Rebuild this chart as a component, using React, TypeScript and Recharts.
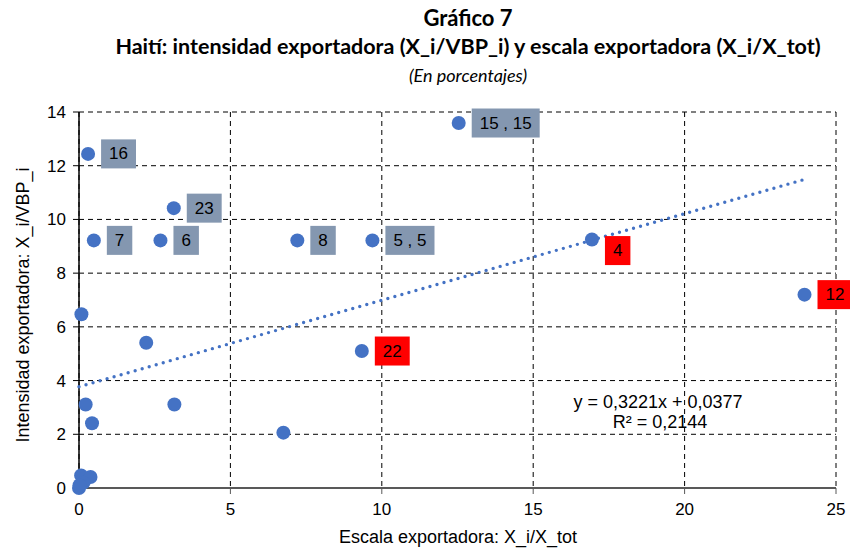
import React from 'react';
import { ScatterChart, Scatter, XAxis, YAxis, CartesianGrid } from 'recharts';

// ----- data -----
const xValues = [0.30, 0.49, 2.69, 3.13, 7.21, 9.69, 12.54, 9.34, 16.94, 23.96, 0.08, 2.22, 0.22, 0.43, 3.15, 6.75, 0.07, 0.38, 0.0, 0.15, 0.02];
const yValues = [12.44, 9.22, 9.22, 10.42, 9.22, 9.22, 13.59, 5.10, 9.25, 7.20, 6.47, 5.41, 3.11, 2.41, 3.11, 2.06, 0.47, 0.41, 0.0, 0.2, 0.1];
const pointLabels = ['16', '7', '6', '23', '8', '5 , 5', '15 , 15', '22', '4', '12', '', '', '', '', '', '', '', '', '', '', ''];
const labelKinds = ['gray', 'gray', 'gray', 'gray', 'gray', 'gray', 'gray', 'red', 'red', 'red', '', '', '', '', '', '', '', '', '', '', ''];

const trendX = [0, 23.9];
const trendY = [3.77, 11.47];

const xTicks = [0, 5, 10, 15, 20, 25];
const yTicks = [0, 2, 4, 6, 8, 10, 12, 14];

const title1 = 'Gráfico 7';
const title2 = 'Haití: intensidad exportadora (X_i/VBP_i) y escala exportadora (X_i/X_tot)';
const title3 = '(En porcentajes)';
const xTitle = 'Escala exportadora: X_i/X_tot';
const yTitle = 'Intensidad exportadora: X_i/VBP_i';
const eqLine1 = 'y = 0,3221x + 0,0377';
const eqLine2 = 'R² = 0,2144';

// ----- build tables -----
const points = xValues.map((x, i) => ({ x, y: yValues[i], label: pointLabels[i], kind: labelKinds[i] }));
const trend = trendX.map((x, i) => ({ x, y: trendY[i] }));

// ----- styles -----
const POINT_COLOR = '#4472C4';
const GRAY_BOX = '#8497B0';
const RED_BOX = '#FF0000';
const AX_FONT = '"Liberation Sans", Arial, sans-serif';
const labelShiftY: Record<string, number> = { '4': 11 };

const textWidth = (s: string, fs: number) => {
  let w = 0;
  for (const c of s) {
    if (c === ' ' || c === ',') w += 0.278;
    else w += 0.556;
  }
  return w * fs;
};

const PointShape = (props: any) => {
  const { cx, cy, payload } = props;
  if (cx == null || cy == null) return <g />;
  const lbl: string = payload?.label || '';
  const fs = 17;
  const pad = 8;
  const bw = textWidth(lbl, fs) + pad * 2;
  const bh = 29;
  const bx = cx + 13;
  const by = cy - bh / 2 + (labelShiftY[lbl] || 0);
  return (
    <g>
      <circle cx={cx} cy={cy} r={7} fill={POINT_COLOR} />
      {lbl && (
        <g>
          <rect x={bx} y={by} width={bw} height={bh} fill={payload.kind === 'red' ? RED_BOX : GRAY_BOX} />
          <text x={bx + bw / 2} y={by + bh / 2} textAnchor="middle" dominantBaseline="central" fontSize={fs} fontFamily={AX_FONT} fill="#000">
            {lbl}
          </text>
        </g>
      )}
    </g>
  );
};

export default function App() {
  return (
    <div style={{ position: 'absolute', left: 0, top: 0, width: 850, height: 550, background: '#fff', overflow: 'hidden' }}>
      <div style={{ position: 'absolute', left: 0, top: 3, width: 936, textAlign: 'center', fontFamily: 'Lato, "Noto Sans", sans-serif', fontWeight: 700, fontSize: 21.5, lineHeight: '29px', color: '#000' }}>
        <div style={{ fontSize: 22 }}>{title1}</div>
        <div>{title2}</div>
        <div style={{ fontWeight: 400, fontStyle: 'italic', fontSize: 18 }}>{title3}</div>
      </div>
      <ScatterChart width={850} height={550} margin={{ top: 112, right: 14, bottom: 32, left: 0 }}>
        <CartesianGrid stroke="#000" strokeDasharray="5 4" strokeWidth={1} />
        <XAxis
          type="number"
          dataKey="x"
          domain={[0, 25]}
          ticks={xTicks}
          interval={0}
          height={30}
          axisLine={{ stroke: '#595959', strokeWidth: 2 }}
          tickLine={{ stroke: '#595959' }}
          tickSize={6}
          tickMargin={9}
          tick={{ fill: '#000', fontSize: 17, fontFamily: AX_FONT }}
        />
        <YAxis
          type="number"
          dataKey="y"
          domain={[0, 14]}
          ticks={yTicks}
          interval={0}
          width={79}
          axisLine={{ stroke: '#000', strokeWidth: 1.5 }}
          tickLine={{ stroke: '#000' }}
          tickSize={6}
          tickMargin={7}
          tick={{ fill: '#000', fontSize: 17, fontFamily: AX_FONT }}
        />
        <Scatter
          data={trend}
          isAnimationActive={false}
          fill={POINT_COLOR}
          line={{ stroke: POINT_COLOR, strokeWidth: 3.4, strokeDasharray: '0 7.3', strokeLinecap: 'round' } as any}
          shape={() => <g />}
        />
        <Scatter data={points} isAnimationActive={false} fill={POINT_COLOR} shape={PointShape} />
      </ScatterChart>
      <div style={{ position: 'absolute', left: 258, top: 526, width: 400, textAlign: 'center', fontFamily: AX_FONT, fontSize: 18, lineHeight: '22px', color: '#000' }}>
        {xTitle}
      </div>
      <div style={{ position: 'absolute', left: 23 - 200, top: 305 - 11, width: 400, textAlign: 'center', fontFamily: AX_FONT, fontSize: 18, lineHeight: '22px', color: '#000', transform: 'rotate(-90deg)' }}>
        {yTitle}
      </div>
      <div style={{ position: 'absolute', left: 558, top: 392, width: 200, textAlign: 'center', fontFamily: AX_FONT, fontSize: 18, lineHeight: '20px', color: '#000' }}>
        <div>{eqLine1}</div>
        <div style={{ marginLeft: 4 }}>{eqLine2}</div>
      </div>
    </div>
  );
}
